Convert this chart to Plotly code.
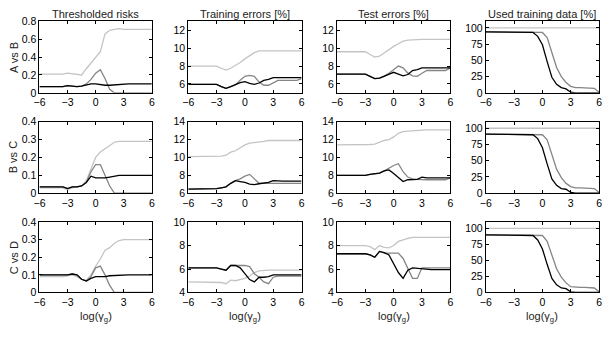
import plotly.graph_objects as go

x = [-6, -5.5, -5, -4.5, -4, -3.5, -3, -2.5, -2, -1.5, -1, -0.5, 0, 0.5, 1, 1.5, 2, 2.5, 3, 3.5, 4, 4.5, 5, 5.5, 6]

col_titles = ["Thresholded risks", "Training errors [%]", "Test errors [%]", "Used training data [%]"]
row_labels = ["A vs B", "B vs C", "C vs D"]
x_label = "log(γ<sub>g</sub>)"
x_ticks = [-6, -3, 0, 3, 6]

# ---- Row 1: A vs B ----
ab_risk_light = [0.21]*6 + [0.22, 0.215, 0.21, 0.2, 0.27, 0.33, 0.39, 0.46, 0.66, 0.70, 0.71, 0.72, 0.71] + [0.71]*6
ab_risk_mid = [0.07]*6 + [0.08, 0.075, 0.07, 0.075, 0.1, 0.15, 0.22, 0.26, 0.16, 0.04, 0.0, 0.0, 0.0] + [0.0]*6
ab_risk_black = [0.07]*6 + [0.08, 0.075, 0.07, 0.075, 0.085, 0.1, 0.1, 0.09, 0.085, 0.085, 0.09, 0.095, 0.1] + [0.1]*6

ab_train_light = [8.0]*7 + [7.75, 7.55, 7.75, 8.05, 8.4, 8.8, 9.2, 9.5, 9.7] + [9.7]*9
ab_train_black = [5.95]*7 + [5.7, 5.5, 5.7, 5.9, 6.15, 6.25, 6.05, 5.95, 6.1, 6.4, 6.5, 6.7] + [6.7]*6
ab_train_mid = [5.95]*7 + [5.7, 5.5, 5.7, 5.9, 6.4, 6.85, 6.95, 6.85, 6.2, 5.85, 5.85, 6.15, 6.4, 6.4, 6.4, 6.4, 6.4, 6.6]

ab_test_light = [9.6]*7 + [9.3, 9.0, 9.1, 9.5, 9.9, 10.2, 10.5, 10.8, 10.9, 10.95, 11.0] + [11.0]*7
ab_test_black = [7.1]*7 + [6.85, 6.6, 6.65, 6.85, 7.1, 7.3, 7.1, 6.9, 7.05, 7.5, 7.6, 7.8] + [7.8]*6
ab_test_mid = [7.1]*7 + [6.85, 6.6, 6.65, 6.85, 7.2, 7.6, 8.0, 7.8, 7.2, 6.9, 6.85, 7.2, 7.5, 7.5, 7.5, 7.5, 7.5, 7.8]

ab_used_light = [100]*25
ab_used_black = [94]*10 + [93, 87, 74, 48, 24, 13, 8, 6, 1] + [0]*6
ab_used_mid = [94]*12 + [93, 85, 60, 39, 25, 16, 10, 8, 8, 8, 8, 7, 1]

# ---- Row 2: B vs C ----
bc_risk_light = [0.03]*6 + [0.02, 0.03, 0.035, 0.04, 0.07, 0.13, 0.2, 0.23, 0.25, 0.27, 0.285, 0.29] + [0.29]*7
bc_risk_mid = [0.035]*6 + [0.025, 0.035, 0.035, 0.04, 0.06, 0.12, 0.16, 0.16, 0.1, 0.04, 0.0] + [0.0]*8
bc_risk_black = [0.035]*6 + [0.025, 0.035, 0.035, 0.04, 0.06, 0.095, 0.085, 0.085, 0.085, 0.09, 0.095, 0.1] + [0.1]*7

bc_train_light = [10.1]*7 + [10.15, 10.25, 10.6, 10.75, 11.1, 11.4, 11.6, 11.65, 11.7, 11.8, 11.9] + [11.9]*7
bc_train_black = [6.45]*6 + [6.5, 6.6, 6.7, 7.1, 7.4, 7.3, 7.2, 7.0, 6.95, 7.05, 7.15, 7.2, 7.4] + [7.35]*6
bc_train_mid = [6.45]*6 + [6.5, 6.6, 6.7, 7.1, 7.4, 7.6, 7.9, 8.1, 7.6, 7.1, 7.1, 7.1, 7.05] + [7.1]*6

bc_test_light = [11.4]*7 + [11.45, 11.5, 11.7, 11.9, 12.0, 12.3, 12.7, 12.9, 12.95, 13.0, 13.05] + [13.1]*7
bc_test_black = [8.0]*7 + [8.1, 8.2, 8.25, 8.5, 8.6, 8.2, 7.8, 7.3, 7.5, 7.55, 7.55, 7.8] + [7.7]*6
bc_test_mid = [8.0]*7 + [8.1, 8.2, 8.25, 8.5, 8.8, 9.1, 9.3, 8.4, 7.8, 7.6, 7.55, 7.5, 7.5, 7.5, 7.5, 7.5, 7.5, 7.7]

bc_used_light = [100]*25
bc_used_black = [91]*10 + [90, 84, 70, 45, 22, 12, 7, 6, 1] + [0]*6
bc_used_mid = [91]*12 + [90, 82, 58, 37, 24, 15, 10, 8, 8, 8, 8, 7, 1]

# ---- Row 3: C vs D ----
cd_risk_light = [0.09]*6 + [0.095, 0.1, 0.09, 0.075, 0.07, 0.1, 0.15, 0.19, 0.24, 0.255, 0.28, 0.295] + [0.3]*7
cd_risk_mid = [0.1]*6 + [0.1, 0.105, 0.1, 0.075, 0.065, 0.09, 0.14, 0.15, 0.1, 0.04, 0.0] + [0.0]*8
cd_risk_black = [0.1]*6 + [0.1, 0.105, 0.1, 0.075, 0.065, 0.08, 0.09, 0.09, 0.09, 0.095, 0.097, 0.1] + [0.1]*7

cd_train_black = [6.1]*7 + [6.0, 5.9, 6.3, 6.3, 6.1, 5.6, 5.1, 4.9, 5.3, 5.3, 5.35, 5.5] + [5.5]*6
cd_train_light = [4.9]*7 + [4.85, 4.75, 5.05, 5.0, 5.1, 5.2, 5.4, 5.7, 5.85, 5.9] + [5.9]*8
cd_train_mid = [6.1]*7 + [6.0, 5.9, 6.3, 6.3, 6.3, 6.3, 6.2, 5.6, 5.3, 4.9, 4.75, 5.3] + [5.4]*6

cd_test_light = [8.0]*7 + [7.9, 7.65, 8.0, 7.85, 7.8, 8.0, 8.35, 8.5, 8.6, 8.7] + [8.7]*8
cd_test_black = [7.3]*7 + [7.2, 7.0, 7.5, 7.4, 7.2, 6.5, 5.7, 5.2, 5.9, 6.1, 6.05, 6.0] + [5.95]*6
cd_test_mid = [7.3]*7 + [7.2, 7.0, 7.5, 7.35, 7.35, 7.35, 7.35, 6.9, 6.1, 5.2, 5.2, 6.1] + [6.1]*6

cd_used_light = [100]*25
cd_used_black = [90]*10 + [89, 82, 68, 44, 22, 12, 7, 6, 1] + [0]*6
cd_used_mid = [90]*12 + [89, 80, 58, 37, 24, 15, 9, 8, 8, 8, 8, 7, 1]

panels = [
    [(ab_risk_light, ab_risk_mid, ab_risk_black), (ab_train_light, ab_train_mid, ab_train_black),
     (ab_test_light, ab_test_mid, ab_test_black), (ab_used_light, ab_used_mid, ab_used_black)],
    [(bc_risk_light, bc_risk_mid, bc_risk_black), (bc_train_light, bc_train_mid, bc_train_black),
     (bc_test_light, bc_test_mid, bc_test_black), (bc_used_light, bc_used_mid, bc_used_black)],
    [(cd_risk_light, cd_risk_mid, cd_risk_black), (cd_train_light, cd_train_mid, cd_train_black),
     (cd_test_light, cd_test_mid, cd_test_black), (cd_used_light, cd_used_mid, cd_used_black)],
]

y_ranges = [
    [[0, 0.8], [5, 13], [5, 13], [0, 110]],
    [[0, 0.4], [6, 14], [6, 14], [0, 110]],
    [[0, 0.4], [4, 10], [4, 10], [0, 110]],
]
y_ticks = [
    [[0, 0.2, 0.4, 0.6, 0.8], [6, 8, 10, 12], [6, 8, 10, 12], [0, 25, 50, 75, 100]],
    [[0, 0.1, 0.2, 0.3, 0.4], [6, 8, 10, 12, 14], [6, 8, 10, 12, 14], [0, 25, 50, 75, 100]],
    [[0, 0.1, 0.2, 0.3, 0.4], [4, 6, 8, 10], [4, 6, 8, 10], [0, 25, 50, 75, 100]],
]

W, H = 607, 339
col_px = [(34, 148), (185, 300), (336, 451), (487, 602)]
row_px = [(16, 90), (120, 194), (224, 297)]
colors = ["#c4c4c4", "#858585", "#000000"]
FONT = "Liberation Sans, Arial, Helvetica, sans-serif"

fig = go.Figure()
layout = {}
idx = 0
for r in range(3):
    for c in range(4):
        idx += 1
        xa = "x" if idx == 1 else f"x{idx}"
        ya = "y" if idx == 1 else f"y{idx}"
        for series, col in zip(panels[r][c], colors):
            fig.add_trace(go.Scatter(x=x, y=series, mode="lines", xaxis=xa, yaxis=ya,
                                     line=dict(color=col, width=1.3), showlegend=False,
                                     hoverinfo="skip"))
        x0, x1 = col_px[c]
        t, b = row_px[r]
        common = dict(showline=True, linecolor="black", linewidth=1, mirror="ticks",
                      ticks="inside", ticklen=3, tickcolor="black", showgrid=False,
                      zeroline=False, tickfont=dict(family=FONT, size=10.5, color="black"))
        layout["xaxis" if idx == 1 else f"xaxis{idx}"] = dict(
            domain=[x0 / W, x1 / W], anchor=ya, range=[-6, 6], tickvals=x_ticks, **common)
        layout["yaxis" if idx == 1 else f"yaxis{idx}"] = dict(
            domain=[1 - b / H, 1 - t / H], anchor=xa, range=y_ranges[r][c],
            tickvals=y_ticks[r][c], **common)

annotations = []
for c, title in enumerate(col_titles):
    x0, x1 = col_px[c]
    annotations.append(dict(text=title, x=(x0 + x1) / 2 / W, y=1 - 8 / H, xref="paper", yref="paper",
                            showarrow=False, xanchor="center", yanchor="middle",
                            font=dict(family=FONT, size=11, color="#222")))
    annotations.append(dict(text=x_label, x=(x0 + x1) / 2 / W, y=1 - 322 / H, xref="paper", yref="paper",
                            showarrow=False, xanchor="center", yanchor="middle",
                            font=dict(family=FONT, size=11, color="#222")))
for r, lab in enumerate(row_labels):
    t, b = row_px[r]
    annotations.append(dict(text=lab, x=8 / W, y=1 - (t + b) / 2 / H, xref="paper", yref="paper",
                            showarrow=False, xanchor="center", yanchor="middle", textangle=-90,
                            font=dict(family=FONT, size=11, color="#222")))

fig.update_layout(width=W, height=H, margin=dict(l=0, r=0, t=0, b=0),
                  paper_bgcolor="white", plot_bgcolor="white",
                  annotations=annotations, **layout)
fig.write_html("out.html")
